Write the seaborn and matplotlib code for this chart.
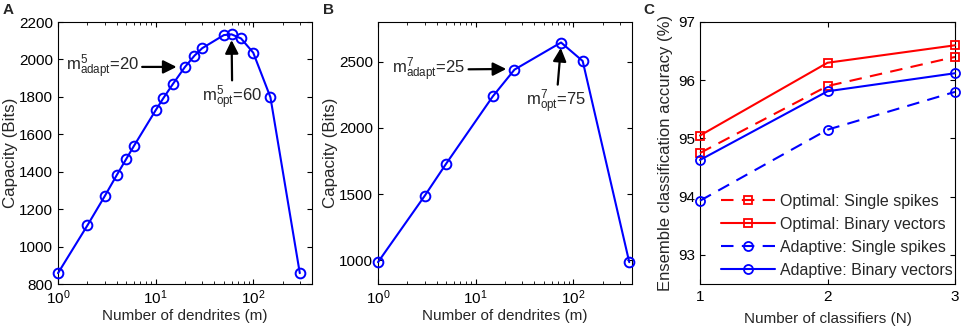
import numpy as np
import pandas as pd
import matplotlib
matplotlib.use("Agg")
import matplotlib.pyplot as plt
import seaborn as sns
from matplotlib.ticker import NullFormatter

# Panel A: capacity vs number of dendrites (5-bit case)
m_a = [1, 2, 3, 4, 5, 6, 10, 12, 15, 20, 25, 30, 50, 60, 75, 100, 150, 300]
cap_a = [858, 1113, 1268, 1382, 1468, 1538, 1728, 1793, 1868, 1960, 2020, 2060,
         2130, 2134, 2112, 2036, 1798, 858]

# Panel B: capacity vs number of dendrites (7-bit case)
m_b = [1, 3, 5, 15, 25, 75, 125, 375]
cap_b = [985, 1485, 1730, 2238, 2440, 2645, 2505, 985]

# Panel C: ensemble accuracy vs number of classifiers
n_cls = [1, 2, 3]
opt_single = [94.75, 95.9, 96.4]
opt_binary = [95.05, 96.3, 96.6]
ada_single = [93.93, 95.15, 95.8]
ada_binary = [94.63, 95.81, 96.12]

sns.set_style("ticks")
plt.rcParams["font.family"] = ["Liberation Sans", "DejaVu Sans"]
plt.rcParams["mathtext.fontset"] = "custom"
plt.rcParams["mathtext.rm"] = "Liberation Sans"
plt.rcParams["mathtext.it"] = "Liberation Sans"
plt.rcParams["mathtext.bf"] = "Liberation Sans:bold"
plt.rcParams["font.size"] = 11
plt.rcParams["axes.linewidth"] = 0.8
plt.rcParams["axes.edgecolor"] = "black"
plt.rcParams["xtick.direction"] = "in"
plt.rcParams["ytick.direction"] = "in"
plt.rcParams["xtick.top"] = True
plt.rcParams["ytick.right"] = True
plt.rcParams["xtick.major.size"] = 3.5
plt.rcParams["ytick.major.size"] = 3.5
plt.rcParams["xtick.minor.size"] = 2
plt.rcParams["xtick.color"] = "black"
plt.rcParams["ytick.color"] = "black"
plt.rcParams["xtick.labelsize"] = 11
plt.rcParams["ytick.labelsize"] = 11

YLAB = 12.2
fig = plt.figure(figsize=(9.64, 3.32), dpi=100)
ax_a = fig.add_axes([58 / 964, 48 / 332, 254 / 964, 262 / 332])
ax_b = fig.add_axes([378 / 964, 48 / 332, 254 / 964, 262 / 332])
ax_c = fig.add_axes([700 / 964, 48 / 332, 255 / 964, 262 / 332])

blue = (0, 0, 1)
red = (1, 0, 0)
arrow = dict(arrowstyle="-|>", color="black", lw=1.6, mutation_scale=20, shrinkA=0, shrinkB=2)
ann_fs = 12

# ---- A ----
df_a = pd.DataFrame({"m": m_a, "cap": cap_a})
sns.lineplot(data=df_a, x="m", y="cap", ax=ax_a, color=blue, lw=1.5,
             marker="o", ms=7, mfc="none", mec=blue, mew=1.4, clip_on=False, zorder=3)
ax_a.set_xscale("log")
ax_a.set_xlim(1, 400)
ax_a.set_ylim(800, 2200)
ax_a.set_yticks(range(800, 2201, 200))
ax_a.set_xlabel("Number of dendrites (m)", labelpad=1)
ax_a.set_ylabel("Capacity (Bits)", fontsize=YLAB, labelpad=1)
ax_a.annotate(r"$\mathregular{m^5_{adapt}}$=20", xy=(17.5, 1960), xytext=(1.2, 1960),
              ha="left", va="center", fontsize=ann_fs, arrowprops=arrow)
ax_a.annotate(r"$\mathregular{m^5_{opt}}$=60", xy=(60, 2118), xytext=(61, 1795),
              ha="center", va="center", fontsize=ann_fs, arrowprops=arrow)

# ---- B ----
df_b = pd.DataFrame({"m": m_b, "cap": cap_b})
sns.lineplot(data=df_b, x="m", y="cap", ax=ax_b, color=blue, lw=1.5,
             marker="o", ms=7, mfc="none", mec=blue, mew=1.4, clip_on=False, zorder=3)
ax_b.set_xscale("log")
ax_b.set_xlim(1, 400)
ax_b.set_ylim(820, 2800)
ax_b.set_yticks([1000, 1500, 2000, 2500])
ax_b.set_xlabel("Number of dendrites (m)", labelpad=1)
ax_b.set_ylabel("Capacity (Bits)", fontsize=YLAB, labelpad=1)
ax_b.annotate(r"$\mathregular{m^7_{adapt}}$=25", xy=(22, 2445), xytext=(1.4, 2440),
              ha="left", va="center", fontsize=ann_fs, arrowprops=arrow)
ax_b.annotate(r"$\mathregular{m^7_{opt}}$=75", xy=(75, 2625), xytext=(67, 2195),
              ha="center", va="center", fontsize=ann_fs, arrowprops=arrow)

for ax in (ax_a, ax_b):
    ax.xaxis.set_minor_formatter(NullFormatter())
    ax.tick_params(which="minor", direction="in", top=True)

# ---- C ----
series = [
    ("Optimal: Single spikes", opt_single, red, "s", (6, 4), 5.5),
    ("Optimal: Binary vectors", opt_binary, red, "s", None, 5.5),
    ("Adaptive: Single spikes", ada_single, blue, "o", (6, 4), 6.5),
    ("Adaptive: Binary vectors", ada_binary, blue, "o", None, 6.5),
]
for label, vals, col, mk, dash, ms in series:
    df_c = pd.DataFrame({"N": n_cls, "acc": vals})
    kw = dict(dashes=dash) if dash else {}
    sns.lineplot(data=df_c, x="N", y="acc", ax=ax_c, color=col, lw=1.5,
                 marker=mk, ms=ms, mfc="none", mec=col, mew=1.3, label=label,
                 clip_on=False, zorder=3, **kw)
ax_c.set_xlim(1, 3)
ax_c.set_ylim(92.5, 97)
ax_c.set_xticks([1, 2, 3])
ax_c.set_yticks([93, 94, 95, 96, 97])
ax_c.tick_params(axis="x", pad=4)
ax_c.set_xlabel("Number of classifiers (N)", labelpad=6)
ax_c.set_ylabel("Ensemble classification accuracy (%)", fontsize=12, labelpad=4)
leg = ax_c.legend(loc="lower right", fontsize=11.5, handlelength=3.4, handletextpad=0.3,
                  borderpad=0.2, labelspacing=0.5, frameon=False,
                  borderaxespad=0.2, bbox_to_anchor=(1.015, 0.0))

# panel letters
fig.text(3 / 964, 1 - 10 / 332, "A", fontsize=11, fontweight="bold", va="center")
fig.text(323 / 964, 1 - 10 / 332, "B", fontsize=11, fontweight="bold", va="center")
fig.text(643 / 964, 1 - 10 / 332, "C", fontsize=11, fontweight="bold", va="center")

fig.savefig("out.png", dpi=100)
